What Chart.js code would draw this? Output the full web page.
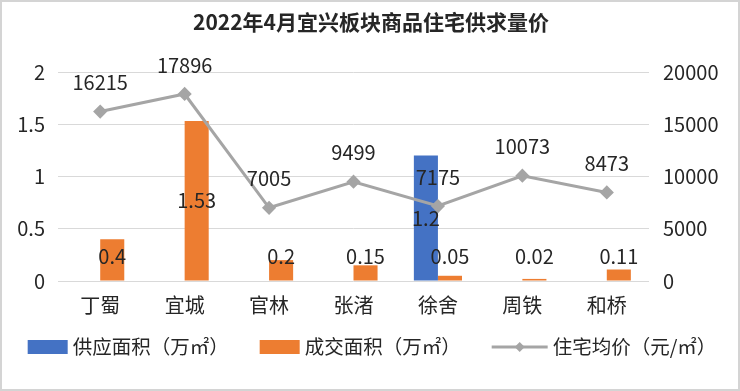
<!DOCTYPE html>
<html><head><meta charset="utf-8">
<script src="https://cdn.jsdelivr.net/npm/chart.js@4"></script>
<style>html,body{margin:0;padding:0;background:#fff}canvas{display:block}</style>
</head><body>
<canvas id="c" width="740" height="391"></canvas>
<script>
const titleText = '2022年4月宜兴板块商品住宅供求量价';
const categories = ['丁蜀','宜城','官林','张渚','徐舍','周铁','和桥'];
const supplyArea = [null,null,null,null,1.2,null,null];
const dealArea = [0.4,1.53,0.2,0.15,0.05,0.02,0.11];
const avgPrice = [16215,17896,7005,9499,7175,10073,8473];
const seriesNames = ['供应面积（万㎡）','成交面积（万㎡）','住宅均价（元/㎡）'];
const leftTickValues = [0,0.5,1,1.5,2];
const rightTickValues = [0,5000,10000,15000,20000];

const FONT = '"Noto Sans CJK SC","Noto Sans",sans-serif';
const TXT = '#262626';
const colors = ['#4472C4','#ED7D31','#A5A5A5'];

const frame = {
  id:'frame',
  beforeDraw(chart){
    const c=chart.ctx; c.save(); c.fillStyle='#fff'; c.fillRect(0,0,chart.width,chart.height);
    c.strokeStyle='#D4D4D4'; c.lineWidth=2; c.strokeRect(1,1,chart.width-2,chart.height-2); c.restore();
  },
  afterDraw(chart){
    const c=chart.ctx; c.save();
    c.fillStyle=TXT; c.font='bold 21px '+FONT; c.textAlign='center'; c.textBaseline='middle';
    c.fillText(titleText, 371, 22);
    // legend
    c.font='19.5px '+FONT; c.textBaseline='middle';
    const y=347, gapBox=5, gapItem=31;
    const boxW=[40,40,56];
    const widths=seriesNames.map((n,i)=>boxW[i]+gapBox+c.measureText(n).width);
    const total=widths.reduce((a,b)=>a+b,0)+gapItem*2;
    let x=372-total/2;
    seriesNames.forEach((n,i)=>{
      if(i<2){ c.fillStyle=colors[i]; c.fillRect(x,y-7,40,14); }
      else {
        c.strokeStyle=colors[2]; c.lineWidth=3; c.beginPath(); c.moveTo(x,y); c.lineTo(x+56,y); c.stroke();
        c.fillStyle=colors[2]; c.beginPath(); c.moveTo(x+28,y-5); c.lineTo(x+33,y); c.lineTo(x+28,y+5); c.lineTo(x+23,y); c.closePath(); c.fill();
      }
      c.fillStyle=TXT; c.textAlign='left';
      c.fillText(n, x+boxW[i]+gapBox, y);
      x+=widths[i]+gapItem;
    });
    c.restore();
  }
};

const labels = {
  id:'valueLabels',
  afterDatasetsDraw(chart){
    const c=chart.ctx; c.save();
    c.font='20px '+FONT; c.fillStyle=TXT; c.textAlign='center'; c.textBaseline='middle';
    [0,1].forEach(di=>{
      const meta=chart.getDatasetMeta(di);
      meta.data.forEach((el,i)=>{
        const v=chart.data.datasets[di].data[i];
        if(v===null||v===undefined) return;
        const cy=Math.min((el.y+el.base)/2, el.base-24);
        c.fillText(String(v), el.x, cy);
      });
    });
    const m=chart.getDatasetMeta(2);
    m.data.forEach((el,i)=>{
      c.fillText(String(chart.data.datasets[2].data[i]), el.x, el.y-29);
    });
    c.restore();
  }
};

new Chart(document.getElementById('c'), {
  data:{
    labels:categories,
    datasets:[
      {type:'bar',label:seriesNames[0],data:supplyArea,backgroundColor:colors[0],yAxisID:'y',order:2,categoryPercentage:0.57,barPercentage:1},
      {type:'bar',label:seriesNames[1],data:dealArea,backgroundColor:colors[1],yAxisID:'y',order:2,categoryPercentage:0.57,barPercentage:1},
      {type:'line',label:seriesNames[2],data:avgPrice,borderColor:colors[2],backgroundColor:colors[2],borderWidth:3,
       pointStyle:'rectRot',pointRadius:5,pointBackgroundColor:colors[2],pointBorderColor:colors[2],yAxisID:'y1',order:1,tension:0}
    ]
  },
  options:{
    responsive:false, animation:false,
    layout:{padding:{top:72,bottom:70,left:0,right:0}},
    plugins:{legend:{display:false},title:{display:false},tooltip:{enabled:false}},
    scales:{
      x:{grid:{display:false,drawTicks:false,tickLength:0},border:{display:false},
         ticks:{font:{size:20,family:FONT},color:TXT,padding:12},
         afterFit(s){s.height=40;}},
      y:{position:'left',min:0,max:2,
         afterBuildTicks(s){s.ticks=leftTickValues.map(v=>({value:v}));},
         grid:{color:'#D9D9D9',lineWidth:1,drawTicks:false},border:{display:false},
         ticks:{font:{size:20,family:FONT},color:TXT,padding:13,callback:v=>String(v)},
         afterFit(s){s.width=58;}},
      y1:{position:'right',min:0,max:20000,
         afterBuildTicks(s){s.ticks=rightTickValues.map(v=>({value:v}));},
         grid:{display:false,drawTicks:false},border:{display:false},
         ticks:{font:{size:20,family:FONT},color:TXT,padding:14,callback:v=>String(v)},
         afterFit(s){s.width=91;}}
    }
  },
  plugins:[frame,labels]
});
</script>
</body></html>
